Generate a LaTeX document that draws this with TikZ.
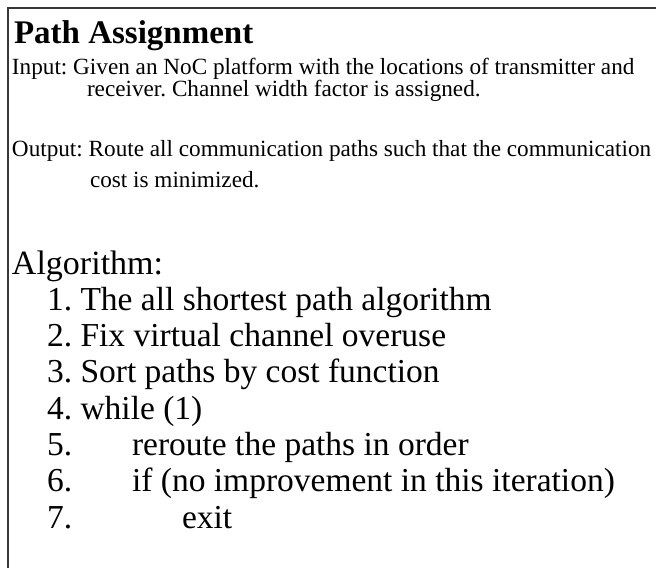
\documentclass[tikz,border=0pt]{standalone}
\usepackage{fontspec}
\setmainfont{Liberation Serif}
\begin{document}
\frenchspacing
\begin{tikzpicture}[x=1pt,y=-1pt,
  txt/.style={anchor=base west, inner sep=0pt, outer sep=0pt},
  heading/.style={txt, font=\fontsize{33}{33}\selectfont\bfseries},
  iotext/.style={txt, font=\fontsize{23.2}{23.2}\selectfont},
  algtext/.style={txt, font=\fontsize{33.5}{33.5}\selectfont},
  frameline/.style={line width=2pt, black!78}]
\useasboundingbox (0,0) rectangle (656,568);
% open frame: top and left edges only
\draw[frameline] (656,8) -- (8,8) -- (8,568);

\node[heading] (title) at (14,43) {Path Assignment};

\node[iotext] (in1) at (12,74) {Input: Given an NoC platform with the locations of transmitter and};
\node[iotext] (in2) at (87,96) {receiver. Channel width factor is assigned.};

\node[iotext] (out1) at (12,156) {Output: Route all communication paths such that the communication};
\node[iotext] (out2) at (90,187) {cost is minimized.};

\node[algtext, font=\fontsize{34}{34}\selectfont] (alg) at (12,274) {Algorithm:};

\node[algtext] (s1) at (47,310) {1. The all shortest path algorithm};
\node[algtext] (s2) at (47,346) {2. Fix virtual channel overuse};
\node[algtext] (s3) at (47,382) {3. Sort paths by cost function};
\node[algtext] (s4) at (47,419) {4. while (1)};
\node[algtext] (n5) at (47,455) {5.};
\node[algtext] (s5) at (132,455) {reroute the paths in order};
\node[algtext] (n6) at (47,491) {6.};
\node[algtext] (s6) at (132,491) {if (no improvement in this iteration)};
\node[algtext] (n7) at (47,528) {7.};
\node[algtext] (s7) at (182,528) {exit};
\end{tikzpicture}
\end{document}
